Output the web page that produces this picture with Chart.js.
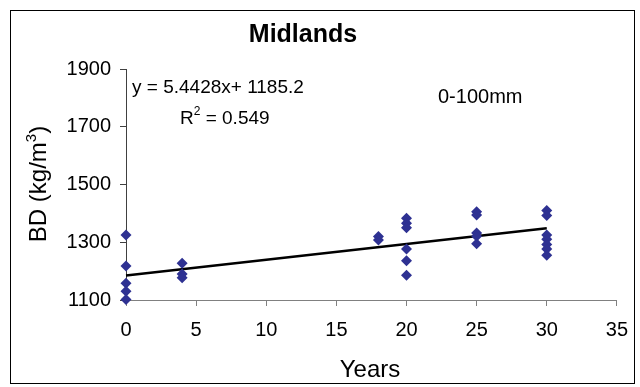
<!DOCTYPE html>
<html>
<head>
<meta charset="utf-8">
<script src="https://cdn.jsdelivr.net/npm/chart.js@4/dist/chart.umd.min.js"></script>
<style>
  html, body { margin: 0; padding: 0; background: #fff; }
  #wrap { position: relative; width: 640px; height: 387px; }
</style>
</head>
<body>
<div id="wrap"><canvas id="c" width="640" height="387"></canvas></div>
<script>
// ---- data ----
const years = [0, 0, 0, 0, 0,
               4, 4, 4,
               18, 18,
               20, 20, 20, 20, 20, 20,
               25, 25, 25, 25, 25,
               30, 30, 30, 30, 30, 30, 30];
const bd    = [1325, 1218, 1158, 1130, 1102,
               1227, 1190, 1177,
               1320, 1308,
               1383, 1366, 1350, 1277, 1236, 1186,
               1406, 1394, 1332, 1321, 1295,
               1410, 1393, 1325, 1310, 1292, 1277, 1255];
const trendSlope = 5.4428;
const trendIntercept = 1185.2;
const trendRange = [0, 30];
const xTicks = [0, 5, 10, 15, 20, 25, 30, 35];
const yTicks = [1100, 1300, 1500, 1700, 1900];
const chartTitle = 'Midlands';
const xTitle = 'Years';
const eqText = 'y = 5.4428x+ 1185.2';
const r2Value = '0.549';
const depthLabel = '0-100mm';

const points = years.map((x, i) => ({ x: x, y: bd[i] }));
const trend = trendRange.map(x => ({ x: x, y: trendSlope * x + trendIntercept }));

const FONT = "'Liberation Sans', Arial, sans-serif";

const decor = {
  id: 'decor',
  afterDraw(chart) {
    const ctx = chart.ctx;
    ctx.save();
    // outer border
    ctx.strokeStyle = '#000';
    ctx.lineWidth = 1;
    ctx.strokeRect(10.5, 10.5, 624, 373);
    ctx.fillStyle = '#000';
    // title
    ctx.font = 'bold 25px ' + FONT;
    ctx.textAlign = 'center';
    ctx.textBaseline = 'alphabetic';
    ctx.fillText(chartTitle, 303, 42);
    // x title
    ctx.font = '24px ' + FONT;
    ctx.fillText(xTitle, 370, 377);
    // equation
    ctx.textAlign = 'left';
    ctx.font = '19px ' + FONT;
    ctx.fillText(eqText, 132, 93);
    // R^2
    let x = 180;
    ctx.fillText('R', x, 124);
    x += ctx.measureText('R').width;
    ctx.font = '12px ' + FONT;
    ctx.fillText('2', x, 115);
    x += ctx.measureText('2').width;
    ctx.font = '19px ' + FONT;
    ctx.fillText(' = ' + r2Value, x, 124);
    // depth label
    ctx.font = '20px ' + FONT;
    ctx.fillText(depthLabel, 438, 103);
    // y title rotated with superscript
    ctx.translate(46, 184);
    ctx.rotate(-Math.PI / 2);
    const main = 'BD (kg/m';
    ctx.font = '24px ' + FONT;
    const w1 = ctx.measureText(main).width;
    ctx.font = '15px ' + FONT;
    const w2 = ctx.measureText('3').width;
    ctx.font = '24px ' + FONT;
    const w3 = ctx.measureText(')').width;
    const total = w1 + w2 + w3;
    let px = -total / 2;
    ctx.fillText(main, px, 0);
    px += w1;
    ctx.font = '15px ' + FONT;
    ctx.fillText('3', px, -10);
    px += w2;
    ctx.font = '24px ' + FONT;
    ctx.fillText(')', px, 0);
    ctx.restore();
  }
};

new Chart(document.getElementById('c'), {
  type: 'scatter',
  data: {
    datasets: [
      {
        label: 'BD',
        data: points,
        pointStyle: 'rectRot',
        pointRadius: 5.5,
        pointHoverRadius: 5.5,
        backgroundColor: '#2E3192',
        borderColor: '#2E3192',
        borderWidth: 0,
        clip: false,
        order: 1
      },
      {
        label: 'Trend',
        type: 'line',
        data: trend,
        borderColor: '#000',
        borderWidth: 2.5,
        pointRadius: 0,
        fill: false,
        clip: false,
        order: 2
      }
    ]
  },
  options: {
    responsive: false,
    animation: false,
    events: [],
    layout: { padding: { left: 0, right: 23, top: 69, bottom: 0 } },
    plugins: { legend: { display: false }, title: { display: false }, tooltip: { enabled: false } },
    scales: {
      x: {
        type: 'linear',
        min: 0, max: 35,
        afterFit(s) { s.height = 87; },
        afterBuildTicks(s) { s.ticks = xTicks.map(v => ({ value: v })); },
        border: { display: true, color: '#808080', width: 1 },
        grid: { drawOnChartArea: false, drawTicks: true, tickLength: 6, color: '#808080' },
        ticks: { color: '#000', font: { family: FONT, size: 20 }, padding: 12, maxRotation: 0,
                 callback: v => String(v) }
      },
      y: {
        type: 'linear',
        min: 1100, max: 1900,
        afterFit(s) { s.width = 126; },
        afterBuildTicks(s) { s.ticks = yTicks.map(v => ({ value: v })); },
        border: { display: true, color: '#404040', width: 1 },
        grid: { drawOnChartArea: false, drawTicks: true, tickLength: 6, color: '#404040' },
        ticks: { color: '#000', font: { family: FONT, size: 20 }, padding: 9,
                 callback: v => String(v) }
      }
    }
  },
  plugins: [decor]
});
</script>
</body>
</html>
